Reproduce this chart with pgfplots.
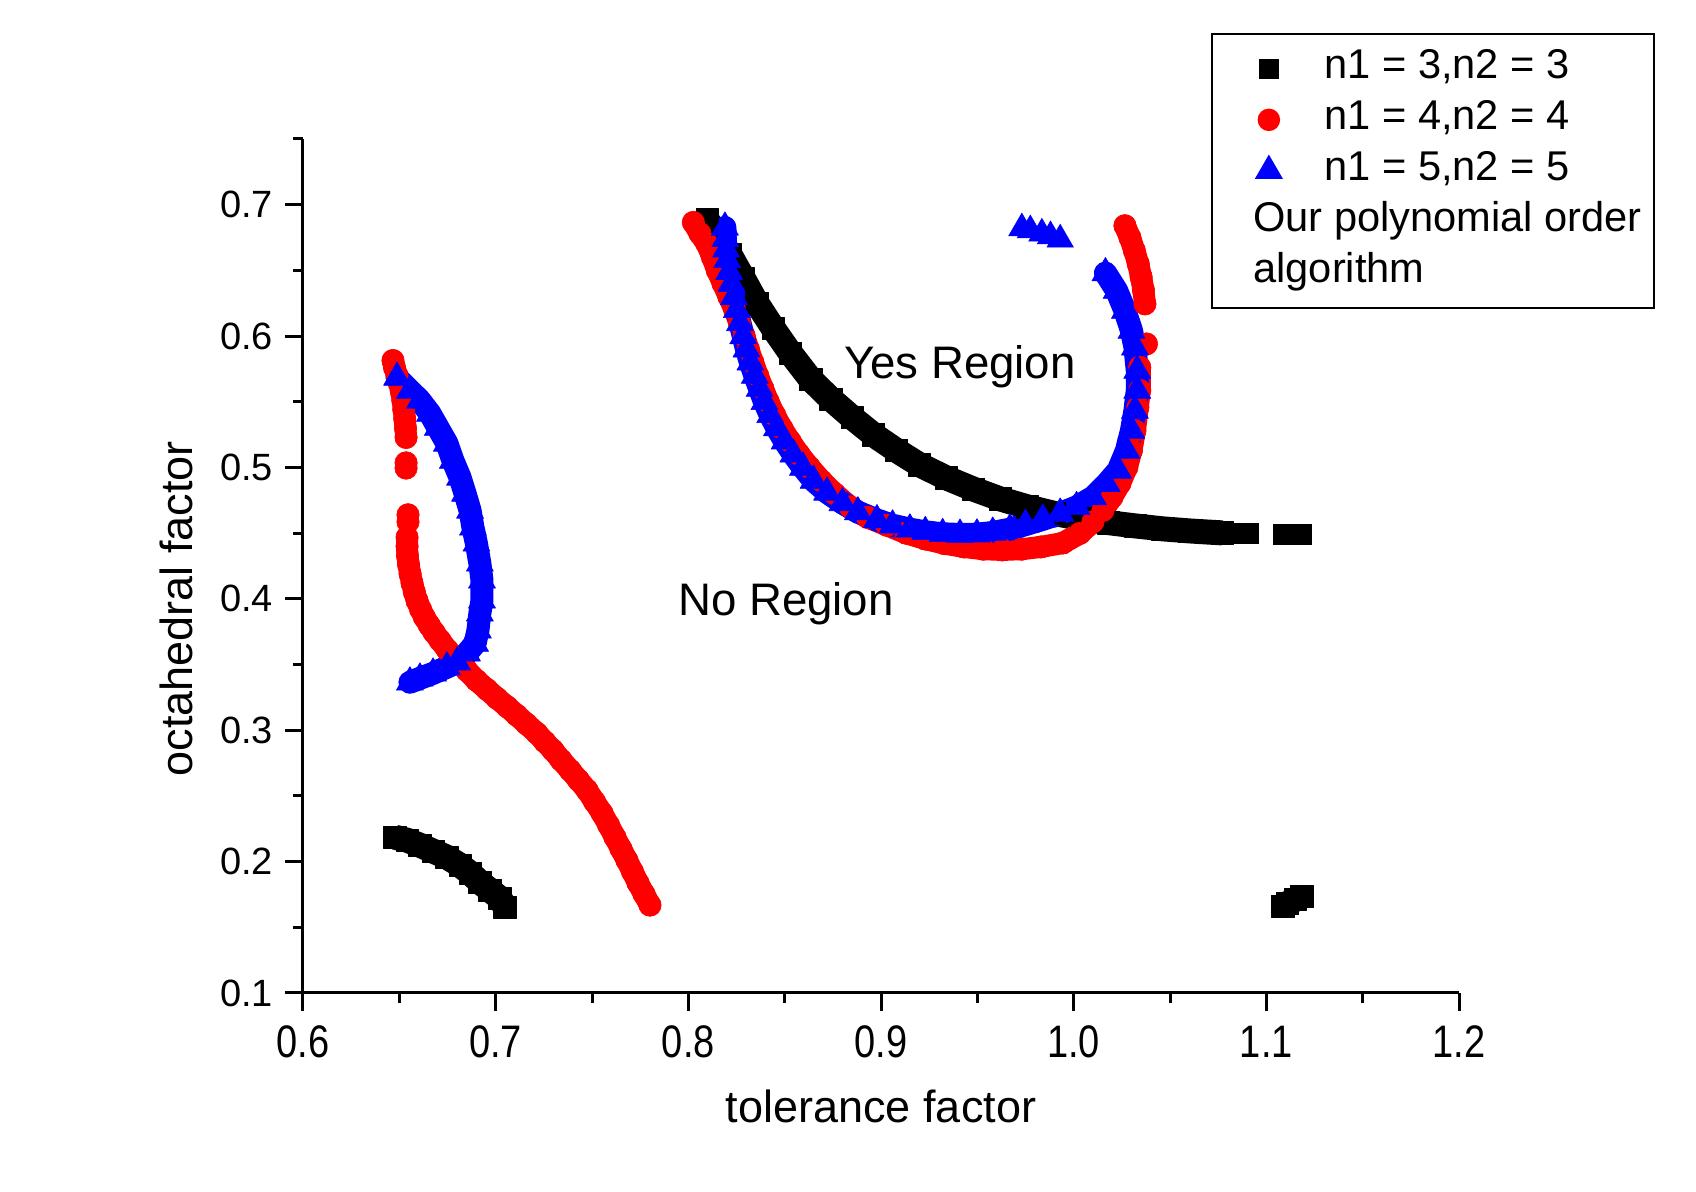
\documentclass[border=0pt]{standalone}
\usepackage{fontspec}
\setmainfont{Liberation Sans}
\usepackage{pgfplots}
\pgfplotsset{compat=1.18}
\usepackage{graphicx}

\pgfplotsset{
  sqr/.style={black, mark=square*, mark size=5.6pt, line width=12.5pt,
    line join=round, mark options={line width=0.3pt, solid}, forget plot},
  sqrpts/.style={black, only marks, mark=square*, mark size=5pt,
    mark options={line width=0.3pt}, forget plot},
  crc/.style={red, mark=*, mark size=5.6pt, line width=11pt,
    line cap=round, line join=round, mark options={line width=0.3pt, solid}, forget plot},
  crcpts/.style={red, only marks, mark=*, mark size=5.6pt,
    mark options={line width=0.3pt}, forget plot},
  tri/.style={blue, mark=triangle*, mark size=7.8pt, line width=11.5pt,
    line cap=round, line join=round, mark options={line width=0.3pt, solid}, forget plot},
  tripts/.style={blue, only marks, mark=triangle*, mark size=7.6pt,
    mark options={line width=0.3pt}, forget plot},
}

\newcommand{\xt}[1]{\scalebox{1}[1.2]{#1}}

\begin{document}
\begin{tikzpicture}
\path[use as bounding box] (-151.5pt,-99.5pt) rectangle (696.5pt,496.5pt);
\begin{axis}[
  at={(0pt,0pt)}, anchor=south west,
  scale only axis, width=578pt, height=427pt,
  xmin=0.6, xmax=1.2, ymin=0.1, ymax=0.75,
  axis lines=left,
  axis line style={-, line width=1.5pt},
  tick style={line width=1.5pt, black},
  tick align=outside,
  major tick length=9pt, minor tick length=5pt,
  xtick={0.6,0.7,0.8,0.9,1.0,1.1,1.2},
  xticklabels={\xt{0.6},\xt{0.7},\xt{0.8},\xt{0.9},\xt{1.0},\xt{1.1},\xt{1.2}},
  ytick={0.1,0.2,0.3,0.4,0.5,0.6,0.7},
  yticklabels={0.1,0.2,0.3,0.4,0.5,0.6,0.7},
  minor xtick={0.65,0.75,0.85,0.95,1.05,1.15},
  minor ytick={0.15,0.25,0.35,0.45,0.55,0.65,0.75},
  xticklabel style={font=\fontsize{19}{22}\selectfont, yshift=-4pt},
  yticklabel style={font=\fontsize{19}{22}\selectfont, xshift=-2.5pt},
  xlabel={tolerance factor},
  ylabel={octahedral factor},
  xlabel style={font=\fontsize{22.5}{26}\selectfont, at={(axis description cs:0.5,-0.1522)}, anchor=base},
  ylabel style={font=\fontsize{22.5}{26}\selectfont, at={(axis description cs:-0.096,0.45)}, anchor=base},
  clip=false,
  legend style={at={(axis description cs:0.7855,1.124)}, anchor=north west,
    draw=black, line width=0.75pt, fill=white,
    inner xsep=20pt, inner ysep=7.5pt, row sep=5.5pt, column sep=21.4pt,
    font=\fontsize{20.8}{24}\selectfont,
    nodes={inner sep=0pt, text height=15pt, text depth=5pt},
    cells={anchor=west}},
  legend cell align=left,
]

% legend entries
\addlegendimage{only marks, mark=square*, mark size=4.75pt, black}
\addlegendentry{n1 = 3,n2 = 3}
\addlegendimage{only marks, mark=*, mark size=5.25pt, red}
\addlegendentry{n1 = 4,n2 = 4}
\addlegendimage{only marks, mark=triangle*, mark size=7.4pt, blue}
\addlegendentry{n1 = 5,n2 = 5}
\addlegendimage{empty legend}
\addlegendentry{\hspace*{-35.5pt}Our polynomial order\hspace*{-14pt}}
\addlegendimage{empty legend}
\addlegendentry{\hspace*{-35.5pt}algorithm}

% ---- n1 = 3, n2 = 3 ----
\addplot[sqr] coordinates {
(0.8097,0.6886)(0.8150,0.6770)(0.8216,0.6620)(0.8285,0.6440)(0.8356,0.6250)
(0.8440,0.6060)(0.8530,0.5870)(0.8635,0.5670)(0.8740,0.5520)(0.8850,0.5380)
(0.8960,0.5250)(0.9080,0.5130)(0.9200,0.5020)(0.9340,0.4920)(0.9480,0.4835)
(0.9620,0.4760)(0.9760,0.4700)(0.9900,0.4650)(1.0040,0.4610)(1.0180,0.4580)
(1.0320,0.4555)(1.0460,0.4533)(1.0600,0.4517)(1.0700,0.4508)(1.0772,0.4502)};
\addplot[sqrpts] coordinates {
(1.0880,0.4497)(1.0905,0.4497)(1.1090,0.4494)(1.1140,0.4494)(1.1180,0.4494)};
\addplot[sqr] coordinates {
(0.6477,0.2186)(0.6540,0.2163)(0.6607,0.2125)(0.6675,0.2080)(0.6747,0.2034)
(0.6815,0.1973)(0.6867,0.1913)(0.6918,0.1844)(0.6970,0.1783)(0.7022,0.1722)
(0.7048,0.1654)};
\addplot[sqr] coordinates {
(1.1085,0.1662)(1.1110,0.1682)(1.1150,0.1712)(1.1185,0.1738)};

% ---- n1 = 4, n2 = 4 ----
\addplot[crc] coordinates {
(0.6467,0.5814)(0.6475,0.5760)(0.6488,0.5700)(0.6500,0.5640)(0.6510,0.5580)
(0.6518,0.5510)(0.6523,0.5440)(0.6528,0.5370)(0.6532,0.5300)(0.6535,0.5228)};
\addplot[crcpts] coordinates {
(0.6535,0.5035)(0.6535,0.4995)(0.6545,0.4640)(0.6545,0.4585)};
\addplot[crc] coordinates {
(0.6540,0.4468)(0.6540,0.4400)(0.6542,0.4330)(0.6548,0.4260)(0.6556,0.4190)
(0.6566,0.4120)(0.6578,0.4050)(0.6592,0.3985)(0.6610,0.3920)(0.6630,0.3860)
(0.6655,0.3800)(0.6680,0.3745)(0.6711,0.3684)(0.6750,0.3610)(0.6800,0.3532)
(0.6850,0.3455)(0.6900,0.3380)(0.6955,0.3310)(0.7007,0.3243)(0.7060,0.3178)
(0.7110,0.3114)(0.7160,0.3048)(0.7214,0.2977)(0.7255,0.2912)(0.7297,0.2848)
(0.7340,0.2772)(0.7386,0.2696)(0.7430,0.2620)(0.7474,0.2544)(0.7513,0.2456)
(0.7552,0.2369)(0.7586,0.2278)(0.7619,0.2186)(0.7650,0.2098)(0.7681,0.2011)
(0.7710,0.1924)(0.7739,0.1837)(0.7770,0.1753)(0.7801,0.1669)};
\addplot[crc] coordinates {
(0.8026,0.6865)(0.8060,0.6780)(0.8097,0.6700)(0.8125,0.6600)(0.8150,0.6500)
(0.8180,0.6400)(0.8210,0.6300)(0.8240,0.6200)(0.8265,0.6100)(0.8290,0.6000)
(0.8312,0.5900)(0.8335,0.5800)(0.8360,0.5700)(0.8387,0.5600)(0.8415,0.5500)
(0.8448,0.5400)(0.8485,0.5300)(0.8528,0.5200)(0.8575,0.5100)(0.8630,0.5000)
(0.8690,0.4900)(0.8760,0.4800)(0.8840,0.4700)(0.8930,0.4620)(0.9030,0.4560)
(0.9130,0.4500)(0.9230,0.4455)(0.9330,0.4420)(0.9430,0.4395)(0.9530,0.4378)
(0.9630,0.4372)(0.9730,0.4378)(0.9830,0.4395)(0.9944,0.4425)(1.0032,0.4498)
(1.0100,0.4586)(1.0152,0.4673)(1.0198,0.4772)(1.0240,0.4878)(1.0276,0.5000)
(1.0300,0.5130)(1.0318,0.5280)(1.0333,0.5456)(1.0343,0.5586)(1.0343,0.5763)};
\addplot[crcpts] coordinates {(1.0378,0.5940)};
\addplot[crc] coordinates {
(1.0370,0.6245)(1.0362,0.6350)(1.0350,0.6450)(1.0335,0.6550)(1.0315,0.6650)
(1.0292,0.6750)(1.0266,0.6840)};

% ---- n1 = 5, n2 = 5 ----
\addplot[tri] coordinates {
(0.6488,0.5684)(0.6555,0.5586)(0.6607,0.5510)(0.6659,0.5410)(0.6700,0.5304)
(0.6747,0.5183)(0.6778,0.5053)(0.6815,0.4924)(0.6841,0.4802)(0.6867,0.4673)
(0.6882,0.4544)(0.6900,0.4422)(0.6918,0.4270)(0.6929,0.4141)(0.6929,0.3989)
(0.6918,0.3890)(0.6908,0.3760)(0.6893,0.3660)(0.6851,0.3586)(0.6800,0.3517)
(0.6747,0.3480)(0.6675,0.3433)(0.6607,0.3395)(0.6555,0.3365)};
\addplot[tri] coordinates {
(0.8190,0.6827)(0.8192,0.6740)(0.8196,0.6660)(0.8202,0.6580)(0.8212,0.6490)
(0.8224,0.6400)(0.8237,0.6300)(0.8252,0.6200)(0.8268,0.6100)(0.8285,0.6000)
(0.8302,0.5900)(0.8322,0.5800)(0.8345,0.5700)(0.8370,0.5600)(0.8395,0.5500)
(0.8425,0.5400)(0.8460,0.5300)(0.8500,0.5200)(0.8545,0.5100)(0.8595,0.5000)
(0.8650,0.4900)(0.8720,0.4810)(0.8800,0.4730)(0.8880,0.4660)(0.8979,0.4600)
(0.9060,0.4560)(0.9150,0.4530)(0.9230,0.4510)(0.9320,0.4495)(0.9410,0.4490)
(0.9498,0.4492)(0.9580,0.4505)(0.9669,0.4530)(0.9750,0.4565)(0.9840,0.4605)
(0.9930,0.4650)(1.0015,0.4700)(1.0101,0.4774)(1.0171,0.4876)(1.0231,0.4977)
(1.0274,0.5129)(1.0300,0.5281)(1.0318,0.5433)(1.0330,0.5586)(1.0330,0.5738)
(1.0318,0.5915)(1.0300,0.6042)(1.0266,0.6194)(1.0223,0.6346)(1.0165,0.6480)};
\addplot[tripts] coordinates {
(0.9731,0.6820)(0.9775,0.6805)(0.9835,0.6780)(0.9880,0.6760)(0.9930,0.6735)};

% region annotations
\node[anchor=base west, font=\fontsize{22.8}{26}\selectfont] at (axis cs:0.8772,0.5677) {Yes Region};
\node[anchor=base west, font=\fontsize{22.8}{26}\selectfont] at (axis cs:0.7911,0.3875) {No Region};
\end{axis}
\end{tikzpicture}
\end{document}
